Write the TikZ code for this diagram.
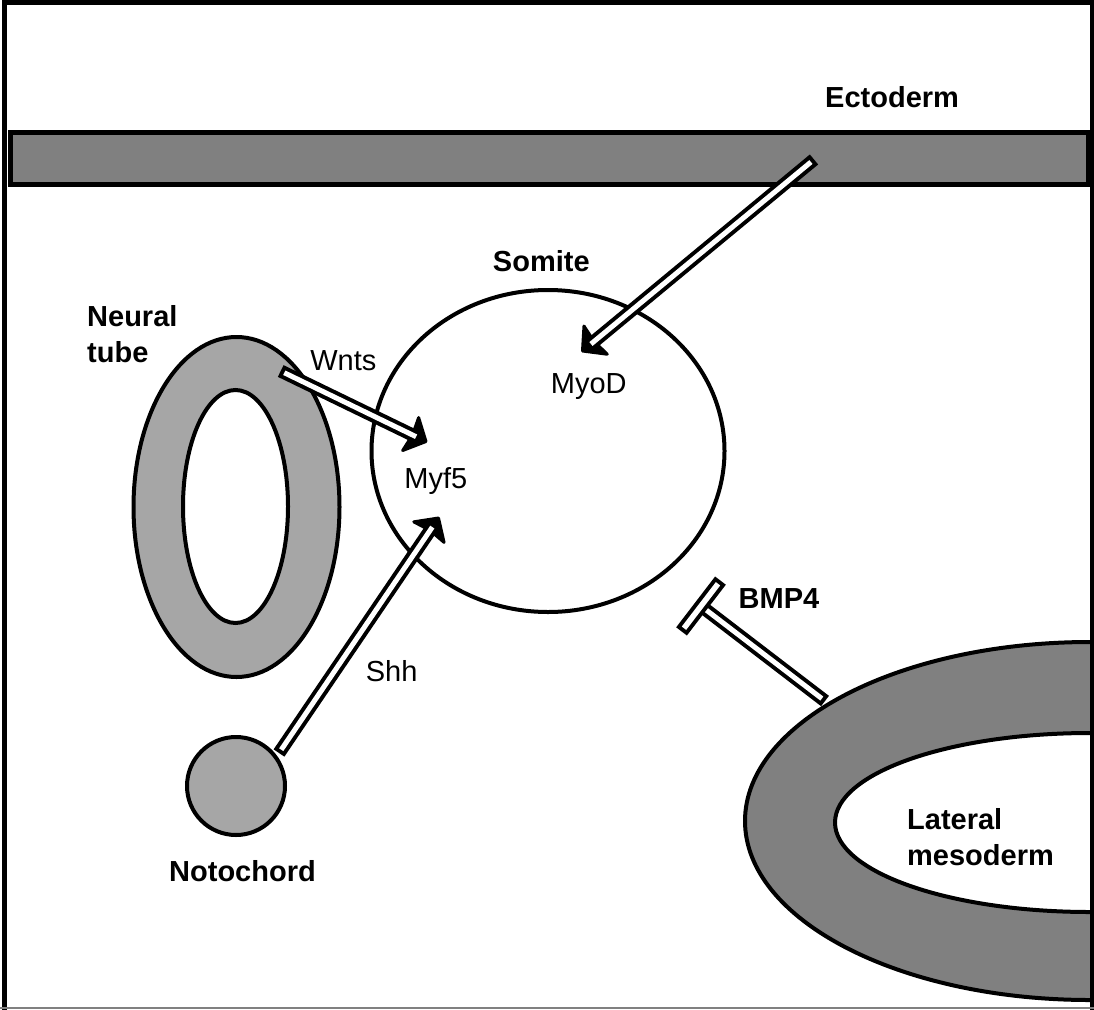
\documentclass[tikz,border=0pt]{standalone}
\usepackage{fontspec}
\setmainfont{Liberation Sans}
\usetikzlibrary{calc,shapes.geometric}
\definecolor{dkgray}{RGB}{128,128,128}
\definecolor{ltgray}{RGB}{166,166,166}
\newcommand\hollowarrow[2]{%
  \filldraw[line width=3pt, line join=round] ($(#2)!15pt!(#1)$) -- ($(#2)!25pt!47:(#1)$) -- (#2) -- ($(#2)!25pt!-47:(#1)$) -- cycle;
  \draw[line width=13pt] (#1) -- ($(#2)!13pt!(#1)$);
  \draw[white, line width=5pt, shorten <=4pt] (#1) -- ($(#2)!11pt!(#1)$);
}
\newcommand\hollowbar[2]{%
  \draw[line width=13pt] (#1) -- (#2);
  \draw[white, line width=5pt, shorten <=4pt] (#1) -- (#2);
  \draw[line width=13.5pt] ($(#2)!32pt!90:(#1)$) -- ($(#2)!32pt!-90:(#1)$);
  \draw[white, line width=5.5pt, shorten <=4pt, shorten >=4pt] ($(#2)!32pt!90:(#1)$) -- ($(#2)!32pt!-90:(#1)$);
}
\begin{document}
\begin{tikzpicture}[x=1pt,y=-1pt,line join=miter,
  outl/.style={line width=4pt},
  lbl/.style={font=\fontsize{29}{36}\selectfont, inner sep=0pt},
  blbl/.style={font=\fontsize{29}{36}\selectfont\bfseries, inner sep=0pt}]
\useasboundingbox (0,0) rectangle (1094,1009);
\fill[white] (0,0) rectangle (1094,1009);

% ectoderm layer
\draw[line width=5pt, fill=dkgray] (10.8,132.5) rectangle (1088,184);

% neural tube
\draw[outl, fill=ltgray, even odd rule]
  (236.5,507) ellipse [x radius=103, y radius=170]
  (235.5,506.5) ellipse [x radius=52.5, y radius=116.5];
\coordinate (nt) at (236.5,507);

% somite
\node[ellipse, draw, outl, minimum width=353pt, minimum height=322pt, inner sep=0pt] (somite) at (548,451) {};

% notochord
\node[circle, draw, outl, fill=ltgray, minimum size=98pt, inner sep=0pt] (noto) at (236,786) {};

% lateral mesoderm
\begin{scope}
  \clip (0,0) rectangle (1090,1009);
  \draw[outl, fill=dkgray, even odd rule]
    (1090,821) ellipse [x radius=345, y radius=179]
    (1090,822.5) ellipse [x radius=255, y radius=89.5];
\end{scope}

% connector end points
\coordinate (ectoSrc) at (814,159.5);
\coordinate (myodIn) at (582.5,351);
\coordinate (wntSrc) at (280.7,371);
\coordinate (myfInA) at (426,441.5);
\coordinate (shhSrc) at (279,753);
\coordinate (myfInB) at (438.5,518);
\coordinate (bmpSrc) at (825,701);
\coordinate (bmpBar) at (701,606);

\hollowarrow{ectoSrc}{myodIn}
\hollowarrow{wntSrc}{myfInA}
\hollowarrow{shhSrc}{myfInB}
\hollowbar{bmpSrc}{bmpBar}

% labels
\node[blbl, anchor=base west] (ectolbl) at (825,107) {Ectoderm};
\node[blbl, anchor=base] (somlbl) at (541.3,271.5) {Somite};
\node[blbl, anchor=base west] (ntlblA) at (87,326.7) {Neural};
\node[blbl, anchor=base west] (ntlblB) at (87,362) {tube};
\node[lbl, anchor=base] (wntlbl) at (343.3,370) {Wnts};
\node[lbl, anchor=base] (myodlbl) at (588.7,393) {MyoD};
\node[lbl, anchor=base] (myflbl) at (435.8,488) {Myf5};
\node[lbl, anchor=base] (shhlbl) at (391.7,681.7) {Shh};
\node[blbl, anchor=base] (bmplbl) at (779,608) {BMP4};
\node[blbl, anchor=base] (notolbl) at (242.5,881) {Notochord};
\node[blbl, anchor=base west] (lmlblA) at (907,829) {Lateral};
\node[blbl, anchor=base west] (lmlblB) at (907,865) {mesoderm};

% frame
\draw[line width=5pt] (4.2,1012) -- (4.2,2.5) -- (1092.5,2.5) -- (1092.5,1012);
\draw[gray, line width=2pt] (0,1008) -- (1094,1008);
\end{tikzpicture}
\end{document}
